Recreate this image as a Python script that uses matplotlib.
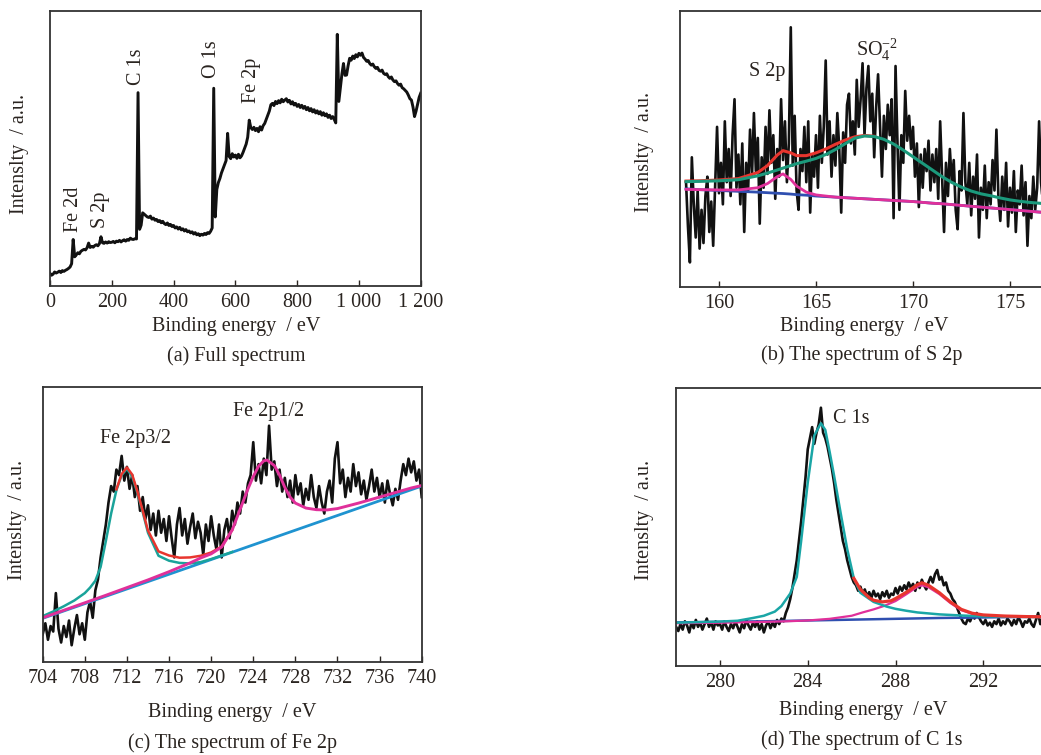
import numpy as np
import matplotlib
matplotlib.use("Agg")
import matplotlib.pyplot as plt

plt.rcParams['font.family'] = ['Liberation Serif', 'DejaVu Serif']
plt.rcParams['mathtext.fontset'] = 'custom'
plt.rcParams['mathtext.rm'] = 'Liberation Serif'
plt.rcParams['mathtext.it'] = 'Liberation Serif:italic'

# ---------------- Panel (a) full spectrum: sampled every 5 eV from 0 eV ----------------
a_step = 5
a_intensity = [
    4.5, 3.8, 4.2, 5.0, 4.6, 4.9, 5.3, 4.8, 5.5, 5.2, 5.6, 5.9, 6.3, 6.8,
    8.0, 16.8, 10.5, 11.2, 12.0, 11.6, 12.5, 12.9, 13.2, 13.0, 13.8, 15.5, 13.9, 14.3,
    14.0, 14.6, 14.9, 14.5, 15.3, 17.8, 15.6, 15.4, 15.9, 15.5, 16.0, 15.7, 15.8, 16.1,
    15.6, 16.2, 16.0, 16.5, 15.9, 16.4, 16.7, 16.2, 16.8, 16.5, 17.3, 16.9, 16.8, 17.1,
    17.0, 70.2, 20.5, 22.0, 26.5, 26.0, 25.5, 25.0, 24.8, 25.3, 24.2, 24.6, 23.8, 24.1,
    23.3, 23.7, 22.9, 23.4, 22.6, 22.2, 22.8, 21.9, 22.3, 21.5, 21.9, 21.0, 21.4, 20.6,
    21.2, 20.3, 20.7, 19.9, 20.4, 19.6, 19.9, 19.2, 19.6, 18.8, 19.3, 18.5, 18.9, 18.2,
    18.7, 18.4, 19.0, 18.6, 19.3, 19.0, 19.8, 21.0, 71.8, 25.0, 35.0, 37.5, 39.0, 41.0,
    42.5, 44.0, 45.5, 55.4, 47.0, 46.2, 48.0, 46.8, 47.5, 46.3, 47.8, 46.5, 47.2, 48.5,
    50.0, 51.5, 54.0, 60.2, 57.5, 56.8, 57.6, 56.4, 57.2, 56.0, 57.8, 56.6, 58.2, 59.0,
    60.5, 62.0, 63.5, 65.8, 66.3, 65.5, 67.0, 66.2, 67.3, 66.5, 67.8, 66.9, 67.5, 68.0,
    66.8, 67.4, 66.1, 66.9, 65.7, 66.3, 65.2, 65.9, 64.8, 65.6, 64.5, 65.2, 64.0, 64.8,
    63.6, 64.4, 63.2, 64.0, 62.8, 63.6, 62.5, 63.3, 62.0, 62.9, 61.8, 62.5, 61.2, 62.0,
    60.8, 61.5, 60.5, 59.2, 91.4, 67.0, 72.0, 77.0, 80.8, 76.5, 76.6, 80.0, 82.7, 82.0,
    83.5, 82.6, 84.0, 83.2, 84.5, 83.8, 84.6, 83.0, 82.4, 81.6, 81.9, 80.8, 80.2, 80.6,
    79.6, 79.0, 79.4, 78.3, 78.0, 78.4, 77.2, 76.8, 77.1, 76.0, 75.4, 75.9, 74.8, 74.2,
    74.5, 73.5, 72.9, 73.3, 72.0, 71.6, 71.0, 70.4, 69.3, 68.0, 67.5, 65.0, 61.5, 63.5,
    66.0, 68.5, 70.0,
]
a_ticks = [0, 200, 400, 600, 800, 1000, 1200]
a_ticklabels = ["0", "200", "400", "600", "800", "1 000", "1 200"]
a_peak_labels = ["Fe 2d", "S 2p", "C 1s", "O 1s", "Fe 2p"]
a_peak_x = [75, 162, 281, 523, 653]
a_peak_y = [19.5, 21.0, 73.0, 75.4, 66.3]

# ---------------- Panel (b) S 2p: sampled every 0.1 eV from 158.3 eV ----------------
b_start, b_step = 158.3, 0.1
b_intensity = [
    38, 22, 9, 47, 30, 18, 35, 14, 28, 16, 33, 40, 20, 31, 15, 36, 58, 34, 45, 30,
    60, 38, 50, 33, 55, 68, 36, 48, 30, 52, 20, 45, 35, 57, 40, 63, 42, 54, 23, 47,
    36, 58, 41, 64, 45, 55, 32, 50, 40, 68, 46, 60, 38, 52, 94, 44, 62, 35, 28, 50,
    42, 58, 38, 60, 27, 48, 40, 55, 36, 62, 45, 58, 82, 48, 60, 40, 55, 44, 63, 50,
    27, 56, 45, 66, 70, 52, 60, 48, 75, 58, 68, 81, 55, 72, 80, 60, 70, 47, 65, 77,
    58, 40, 62, 50, 66, 55, 68, 25, 80, 52, 28, 55, 45, 71, 53, 62, 50, 58, 40, 52,
    29, 48, 36, 50, 42, 53, 35, 48, 38, 50, 32, 60, 40, 20, 45, 33, 50, 38, 46, 28,
    21, 42, 35, 63, 38, 30, 45, 26, 40, 32, 48, 18, 36, 28, 44, 25, 38, 30, 46, 35,
    57, 33, 24, 40, 28, 45, 22, 36, 27, 42, 20, 35, 30, 44, 26, 38, 15, 33, 25, 40,
    28, 36, 60, 38, 30, 42,
]
b_fit_x = [158.3, 159, 160, 161, 162, 162.5, 163, 163.3, 163.7, 164, 164.5, 165, 165.5,
           166, 166.5, 167, 167.5, 168, 168.5, 169, 169.5, 170, 170.5, 171, 171.5, 172,
           172.5, 173, 173.5, 174, 174.5, 175, 175.5, 176, 176.5, 177]
b_so4 = [38.2, 38.3, 38.5, 38.9, 40.3, 41.3, 42.4, 43.1, 44.0, 44.7, 45.6, 46.6, 48.0,
         49.8, 51.9, 53.9, 54.7, 54.5, 53.5, 51.8, 49.6, 47.2, 44.8, 42.4, 40.0, 37.9,
         36.2, 34.8, 33.8, 33.1, 32.3, 31.6, 31.1, 30.7, 30.4, 30.1]
b_s2p = [35.4, 35.3, 35.2, 35.2, 36.0, 37.5, 40.0, 41.0, 39.0, 36.6, 34.4, 33.4, 33.0,
         32.6, 32.4, 32.2, 32.0, 31.8, 31.6, 31.4, 31.2, 31.0, 30.7, 30.4, 30.2, 29.9,
         29.6, 29.3, 29.0, 28.7, 28.4, 28.1, 27.8, 27.5, 27.2, 27.0]
b_bg = [35.6, 35.3, 35.0, 34.7, 34.4, 34.2, 34.0, 33.9, 33.7, 33.5, 33.3, 33.0, 32.8,
        32.6, 32.4, 32.2, 32.0, 31.8, 31.6, 31.4, 31.2, 31.0, 30.7, 30.4, 30.2, 29.9,
        29.6, 29.3, 29.0, 28.7, 28.4, 28.1, 27.8, 27.5, 27.2, 27.0]
b_env_x = [158.3, 159, 160, 161, 162, 162.5, 163, 163.3, 163.7, 164, 164.5, 165, 165.5,
           166, 166.5, 167, 167.5, 168]
b_env = [38.4, 38.5, 38.8, 39.3, 41.5, 44.0, 47.8, 49.4, 48.6, 47.6, 47.6, 48.6, 50.0,
         51.7, 53.2, 54.4, 54.9, 54.6]
b_ticks = [160, 165, 170, 175]

# ---------------- Panel (c) Fe 2p: sampled every 0.25 eV from 704 eV ----------------
c_start, c_step = 704.0, 0.25
c_intensity = [
    10, 14, 8, 13, 11, 25, 12, 7, 13, 9, 15, 6, 12, 17, 10, 14, 8, 18, 22, 16,
    26, 30, 38, 44, 50, 58, 64, 62, 70, 68, 75, 66, 71, 63, 68, 60, 64, 55, 60, 52,
    57, 48, 54, 46, 55, 47, 52, 44, 53, 45, 38, 50, 56, 46, 52, 43, 49, 54, 45, 51,
    47, 39, 50, 44, 53, 46, 41, 50, 38, 48, 52, 45, 55, 50, 58, 54, 62, 58, 65, 68,
    80, 66, 72, 65, 74, 68, 86, 70, 73, 64, 70, 62, 67, 60, 66, 58, 68, 61, 65, 57,
    63, 59, 68, 60, 56, 64, 58, 54, 62, 66, 58, 74, 80, 65, 70, 60, 67, 62, 72, 64,
    69, 61, 66, 59, 64, 70, 62, 67, 60, 65, 58, 66, 61, 57, 63, 59, 66, 72, 68, 74,
    69, 73, 66, 70, 60,
]
c_bg_x = [704, 740]
c_bg = [15.8, 64.0]
c_p32_x = [704, 705, 706, 707, 708, 708.5, 709, 709.5, 710, 710.5, 711, 711.5, 712, 712.5,
           713, 713.5, 714, 715, 716, 717, 718, 719, 720, 721, 722]
c_p32 = [16.6, 18.3, 20.2, 22.3, 25.0, 27.0, 29.5, 34.5, 44.0, 54.0, 62.5, 68.0, 70.3, 67.5,
         61.5, 54.5, 47.0, 38.6, 36.8, 36.0, 35.8, 36.3, 37.4, 38.7, 40.0]
c_env_x = [711, 711.5, 712, 712.5, 713, 713.5, 714, 715, 716, 717, 718, 719, 720, 721, 722]
c_env = [62.8, 68.4, 70.8, 68.2, 62.0, 55.0, 47.8, 40.2, 38.7, 37.9, 38.0, 38.6, 39.8, 42.0, 48.0]
c_p12_x = [704, 710, 714, 716, 717, 718, 719, 720, 721, 722, 722.5, 723, 723.5, 724, 724.5,
           725, 725.3, 726, 726.5, 727, 727.5, 728, 729, 730, 731, 732, 733, 734, 735, 736,
           737, 738, 739, 740]
c_p12 = [16.0, 24.2, 29.8, 32.8, 34.4, 36.0, 37.8, 39.3, 41.8, 48.0, 53.0, 58.0, 63.0, 67.5,
         71.2, 73.2, 73.5, 71.5, 68.0, 63.5, 60.0, 57.8, 56.0, 55.4, 55.3, 55.8, 56.8, 57.8,
         58.9, 60.0, 61.1, 62.2, 63.3, 64.2]
c_ticks = [704, 708, 712, 716, 720, 724, 728, 732, 736, 740]

# ---------------- Panel (d) C 1s: sampled every 0.1 eV from 278 eV ----------------
d_start, d_step = 278.0, 0.1
d_intensity = [
    14, 12.5, 15, 13, 16, 14.5, 12, 15.5, 13.5, 16.5, 14, 15.5, 13, 15, 17, 14, 15.5, 13, 16, 14.5,
    15, 13, 16, 14, 12.5, 15, 13.5, 16, 14, 12, 15, 13.5, 16.5, 14.5, 13, 15.5, 14, 16, 13, 15,
    12, 14.5, 16, 13.5, 15.5, 14, 16.5, 15, 17, 16, 19, 21, 24, 28, 33, 38, 45, 52, 60, 68,
    78, 82, 86, 80, 84, 87, 93, 84, 82, 79, 75, 71, 66, 60, 55, 50, 45, 42, 38, 35,
    32, 30, 29, 27, 28.5, 26, 27.5, 25, 26.5, 24.5, 27, 25, 26, 24, 26.5, 25, 27, 24.5, 26, 25.5,
    28, 26, 28.5, 27, 29, 27.5, 30, 28, 29.5, 27, 30, 28, 31, 29, 27.5, 30, 32, 30, 33, 34.5,
    31, 32, 29, 30, 27, 26, 24, 23, 21, 19, 17, 15.5, 15, 17, 16, 18, 17, 19, 17.5, 16,
    15, 16.5, 14.5, 15.5, 14, 16, 15, 17, 14.5, 16, 15, 17, 16, 14.5, 16.5, 15, 17.5, 16, 14, 16,
    15.5, 17, 15, 14, 16.5, 19, 15, 17, 16, 18, 16.5,
]
d_bg_x = [278, 280, 282, 284, 286, 288, 290, 292, 294, 295]
d_bg = [15.6, 15.8, 16.0, 16.3, 16.6, 16.9, 17.2, 17.4, 17.6, 17.7]
d_c1s_x = [278, 279, 280, 280.8, 281.5, 282, 282.5, 282.8, 283.2, 283.5, 283.7, 284, 284.3,
           284.6, 284.8, 285, 285.2, 285.5, 285.8, 286.1, 286.4, 287, 287.6, 288, 288.5, 289,
           290, 291, 292, 293, 294, 295]
d_c1s = [15.5, 15.7, 15.9, 16.2, 17.2, 18.0, 19.5, 21.5, 26.0, 32.0, 45.0, 66.0, 83.0,
         87.4, 85.0, 77.0, 68.5, 55.0, 42.0, 31.5, 26.3, 23.0, 21.3, 20.5, 19.8, 19.2,
         18.5, 18.1, 17.8, 17.7, 17.6, 17.5]
d_p289_x = [278, 280, 282, 283, 284, 285, 286, 286.5, 287, 287.5, 288, 288.5, 289, 289.2,
            289.5, 290, 290.5, 291, 291.5, 292, 293, 294, 295]
d_p289 = [15.3, 15.5, 15.8, 16.0, 16.3, 16.9, 18.0, 19.2, 20.3, 21.6, 23.3, 25.8, 28.5, 29.0,
          28.3, 25.8, 22.6, 20.0, 18.7, 18.1, 17.8, 17.6, 17.5]
d_env_x = [286.1, 286.4, 286.8, 287.0, 287.4, 287.8, 288, 288.5, 289, 289.2, 289.5, 290,
           290.5, 291, 291.5, 292, 293, 294, 295]
d_env = [31.5, 27.5, 24.5, 23.6, 23.0, 23.4, 24.2, 26.5, 29.2, 29.9, 29.0, 26.3, 23.0, 20.3,
         18.9, 18.3, 17.9, 17.7, 17.6]
d_ticks = [280, 284, 288, 292]

# ---------------- colours ----------------
DATA = '#111111'
TEAL = '#1aa39a'
RED = '#e8352e'
MAG = '#e0309a'
BLUE = '#2f4fb0'
LBLUE = '#1f93d0'
TXT = '#2a2420'

W, H = 1041, 755
fig = plt.figure(figsize=(W / 100, H / 100), dpi=100)


def rect(left, top, right, bottom):
    return [left / W, 1 - bottom / H, (right - left) / W, (bottom - top) / H]


def style(ax, ticks, labels=None):
    ax.set_xticks(ticks)
    if labels is not None:
        ax.set_xticklabels(labels)
    ax.set_yticks([])
    ax.tick_params(axis='x', direction='in', length=4, width=1.0, pad=5,
                   labelsize=14.5, colors=TXT, labelcolor=TXT)
    for s in ax.spines.values():
        s.set_linewidth(1.3)
        s.set_color('#333333')
    ax.set_ylim(0, 100)


def ftext(px, py, s, **kw):
    fig.text(px / W, 1 - py / H, s, ha='center', va='center', color=TXT, **kw)


# (a)
ax_a = fig.add_axes(rect(50, 10.7, 420.7, 285.7))
xa = a_step * np.arange(len(a_intensity))
ax_a.plot(xa, a_intensity, color=DATA, lw=2.1)
ax_a.set_xlim(0, 1200)
style(ax_a, a_ticks, a_ticklabels)
for lab, x, y in zip(a_peak_labels, a_peak_x, a_peak_y):
    ax_a.text(x, y, lab, rotation=90, ha='center', va='bottom', fontsize=14.5, color=TXT)

# (b)
ax_b = fig.add_axes(rect(680.2, 10.7, 1048.8, 287.3))
xb = b_start + b_step * np.arange(len(b_intensity))
ax_b.plot(xb, b_intensity, color=DATA, lw=1.9)
ax_b.plot(b_fit_x, b_bg, color=BLUE, lw=2.0)
ax_b.plot(b_fit_x, b_s2p, color=MAG, lw=2.0)
ax_b.plot(b_env_x, b_env, color=RED, lw=2.2)
ax_b.plot(b_fit_x, b_so4, color='#1b9a7c', lw=2.2)
ax_b.set_xlim(158, 177)
style(ax_b, b_ticks)
ax_b.text(162.46, 78, "S 2p", ha='center', va='center', fontsize=14.5, color=TXT)
ax_b.text(168.13, 85.8, r"SO$_4^{-2}$", ha='center', va='center', fontsize=14.5, color=TXT)

# (c)
ax_c = fig.add_axes(rect(42.7, 387.3, 421.7, 661.7))
xc = c_start + c_step * np.arange(len(c_intensity))
ax_c.plot(xc, c_intensity, color=DATA, lw=1.9)
ax_c.plot(c_bg_x, c_bg, color=LBLUE, lw=2.0)
ax_c.plot(c_p32_x, c_p32, color=TEAL, lw=1.8)
ax_c.plot(c_env_x, c_env, color=RED, lw=1.8)
ax_c.plot(c_p12_x, c_p12, color=MAG, lw=2.1)
ax_c.set_xlim(704, 740)
style(ax_c, c_ticks)
ax_c.text(712.77, 81.4, "Fe 2p3/2", ha='center', va='center', fontsize=14.5, color=TXT)
ax_c.text(725.44, 91.1, "Fe 2p1/2", ha='center', va='center', fontsize=14.5, color=TXT)

# (d)
ax_d = fig.add_axes(rect(676.1, 388.3, 1049.1, 665.7))
xd = d_start + d_step * np.arange(len(d_intensity))
ax_d.plot(xd, d_intensity, color=DATA, lw=1.9)
ax_d.plot(d_bg_x, d_bg, color=BLUE, lw=1.8)
ax_d.plot(d_p289_x, d_p289, color=MAG, lw=1.6)
ax_d.plot(d_c1s_x, d_c1s, color='#1aa6a6', lw=1.8)
ax_d.plot(d_env_x, d_env, color=RED, lw=2.3)
ax_d.set_xlim(278, 295)
style(ax_d, d_ticks)
ax_d.text(285.15, 89.2, "C 1s", ha='left', va='center', fontsize=14.5, color=TXT)

# axis titles and captions
ylab = "Intenslty  / a.u."
ftext(20, 154, ylab, rotation=90, fontsize=14.5)
ftext(645, 152, ylab, rotation=90, fontsize=14.5)
ftext(18, 520, ylab, rotation=90, fontsize=14.5)
ftext(645, 520, ylab, rotation=90, fontsize=14.5)

xlab = "Binding energy  / eV"
ftext(236, 326, xlab, fontsize=14.5)
ftext(864, 326, xlab, fontsize=14.5)
ftext(232, 712, xlab, fontsize=14.5)
ftext(863, 711, xlab, fontsize=14.5)

ftext(236, 356, "(a) Full spectrum", fontsize=14.5)
ftext(862, 355, "(b) The spectrum of S 2p", fontsize=14.5)
ftext(232, 743, "(c) The spectrum of Fe 2p", fontsize=14.5)
ftext(862, 740, "(d) The spectrum of C 1s", fontsize=14.5)

fig.savefig("out.png", dpi=100, facecolor='white')
